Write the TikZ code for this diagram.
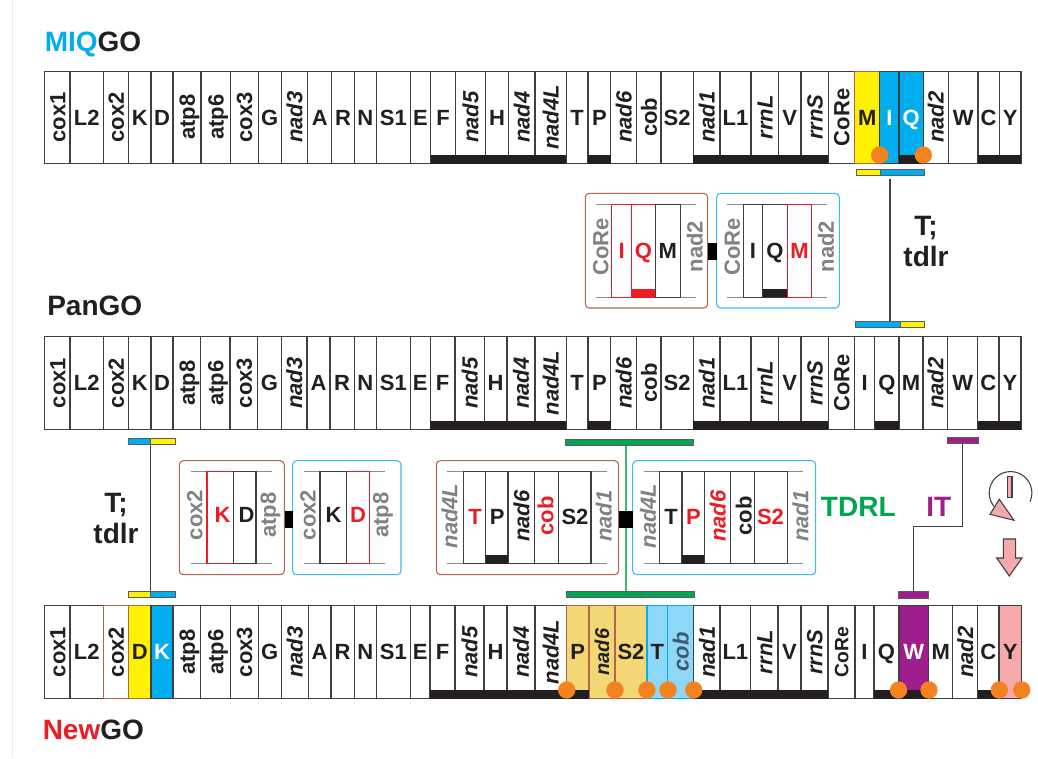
\documentclass[tikz,border=0pt]{standalone}
\usepackage{fontspec}
\setmainfont{Liberation Sans}
\definecolor{ink}{HTML}{231F20}
\definecolor{edge}{HTML}{3F3F41}
\definecolor{cyanx}{HTML}{00AEEF}
\definecolor{yel}{HTML}{FFF200}
\definecolor{redx}{HTML}{ED1C24}
\definecolor{grayt}{HTML}{808285}
\definecolor{rail}{HTML}{8A8C8E}
\definecolor{brownb}{HTML}{B0654F}
\definecolor{blueb}{HTML}{3DBBEC}
\definecolor{sand}{HTML}{F2D774}
\definecolor{sky}{HTML}{8DD8F8}
\definecolor{purp}{HTML}{9E1F8C}
\definecolor{pinkx}{HTML}{F5A9AB}
\definecolor{greenx}{HTML}{00A651}
\definecolor{greenl}{HTML}{3CB878}
\definecolor{dotc}{HTML}{F58220}
\definecolor{cobt}{HTML}{3D5A6C}
\tikzset{
  lab/.style={inner sep=0pt,text=ink,font=\bfseries\fontsize{16.5}{18}\selectfont,text height=11.9pt,text depth=0pt},
  gt/.style={lab},
  gw/.style={lab,text=white},
  gp/.style={lab,rotate=90,font=\bfseries\itshape\fontsize{16.5}{18}\selectfont},
  gs/.style={lab,rotate=90,text height=10.8pt,font=\bfseries\itshape\fontsize{15}{18}\selectfont},
  gq/.style={lab,rotate=90,text=cobt,font=\bfseries\itshape\fontsize{16.5}{18}\selectfont},
  gr/.style={lab,rotate=90},
  gu/.style={lab,rotate=90,text height=10.4pt,font=\bfseries\fontsize{14.5}{18}\selectfont},
  cwht/.style={draw=edge,line width=1.05pt,fill=white},
  cyel/.style={draw=brownb,line width=1.05pt,fill=yel},
  cbrn/.style={draw=brownb,line width=1.05pt,fill=white},
  ccya/.style={draw=edge,line width=1.05pt,fill=cyanx},
  csan/.style={draw=brownb,line width=1.05pt,fill=sand},
  csky/.style={draw=cyanx,line width=1.05pt,fill=sky},
  cpur/.style={draw=edge,line width=1.05pt,fill=purp},
  cpnk/.style={draw=edge,line width=1.05pt,fill=pinkx},
  band/.style={fill=ink},
  barst/.style={draw=edge!85,line width=.6pt},
  conn/.style={draw=edge,line width=1pt},
  redbox/.style={draw=brownb,line width=.8pt,rounded corners=3pt,fill=white},
  blubox/.style={draw=blueb,line width=.8pt,rounded corners=3pt,fill=white},
  railst/.style={draw=rail,line width=.9pt},
  gbk/.style={draw=edge,line width=1.15pt},
  grd/.style={draw=redx,line width=1.15pt},
  ttl/.style={inner sep=0pt,anchor=base west,font=\bfseries\fontsize{21}{24}\selectfont,text=ink},
  big/.style={inner sep=0pt,align=center,font=\bfseries\fontsize{21}{23.8}\selectfont,text=ink},
  btxt/.style={lab},
  brot/.style={lab,rotate=90},
  brit/.style={lab,rotate=90,font=\bfseries\itshape\fontsize{16.5}{18}\selectfont},
  icon/.style={draw=edge,line width=.8pt,fill=pinkx},
}
\newcommand{\generow}[4]{%
  \foreach \lab/\xb/\kd/\cs [remember=\xb as \xa (initially 44.7)] in {#4}{%
    \path[\cs] (\xa,#2) rectangle (\xb,#3);
    \node[\kd] (#1-\lab) at ({(\xa+\xb)/2},{(#2+#3)/2}) {\lab};
  }}
\newcommand{\barseg}[6]{\path[barst,fill=#6] (#2,#4) rectangle (#3,#5); \coordinate (#1) at ({(#2+#3)/2},{(#4+#5)/2});}
\begin{document}
\begin{tikzpicture}[x=0.75pt,y=-0.75pt]
\useasboundingbox (0,0) rectangle (1038,758);
\fill[white] (0,0) rectangle (1038,758);
\draw[black!7,line width=.6pt] (12.7,0) -- (12.7,758);

% titles
\node[ttl] (t1) at (44.5,51) {\textcolor{cyanx}{MIQ}GO};
\node[ttl] (t2) at (47,315) {PanGO};
\node[ttl] (t3) at (42.5,739) {\textcolor{redx}{New}GO};

% row 1
\generow{a}{71.3}{163.3}{cox1/70/gr/cwht,L2/103.3/gt/cwht,cox2/128.7/gr/cwht,K/151/gt/cwht,D/173/gt/cwht,atp8/201/gr/cwht,atp6/230.3/gr/cwht,cox3/258.3/gr/cwht,G/281.3/gt/cwht,nad3/307.7/gp/cwht,A/331.7/gt/cwht,R/354.3/gt/cwht,N/376.3/gt/cwht,S1/410.3/gt/cwht,E/430.7/gt/cwht,F/455.3/gt/cwht,nad5/485.7/gp/cwht,H/508.3/gt/cwht,nad4/535/gp/cwht,nad4L/566.3/gp/cwht,T/588/gt/cwht,P/610.7/gt/cwht,nad6/636.7/gp/cwht,cob/661/gr/cwht,S2/693.3/gt/cwht,nad1/720/gp/cwht,L1/751/gt/cwht,rrnL/778.3/gp/cwht,V/801/gt/cwht,rrnS/828.3/gp/cwht,CoRe/854.7/gr/cwht,M/879.7/gt/cyel,I/899/gw/ccya,Q/923.3/gw/ccya,nad2/948.3/gp/cwht,W/978/gt/cwht,C/999.3/gt/cwht,Y/1021/gt/cwht}
\foreach \p/\q in {430.7/566.3,588/610.7,693.3/828.3,899/923.3,978/1021}
  \fill[band] (\p,155) rectangle (\q,163.8);
\foreach \cx in {879.7,923.3} \fill[dotc] (\cx,155) circle[radius=6.5pt];

% row 2
\generow{b}{336.7}{429.3}{cox1/70/gr/cwht,L2/103.3/gt/cwht,cox2/128.7/gr/cwht,K/151/gt/cwht,D/173/gt/cwht,atp8/200.7/gr/cwht,atp6/230/gr/cwht,cox3/257.7/gr/cwht,G/281.3/gt/cwht,nad3/307/gp/cwht,A/330/gt/cwht,R/354.3/gt/cwht,N/376.3/gt/cwht,S1/410.3/gt/cwht,E/430.3/gt/cwht,F/455/gt/cwht,nad5/484.3/gp/cwht,H/507/gt/cwht,nad4/535/gp/cwht,nad4L/566.3/gp/cwht,T/588/gt/cwht,P/610.7/gt/cwht,nad6/636.7/gp/cwht,cob/661/gr/cwht,S2/693.3/gt/cwht,nad1/720/gp/cwht,L1/751/gt/cwht,rrnL/778.3/gp/cwht,V/801/gt/cwht,rrnS/828.3/gp/cwht,CoRe/854.7/gr/cwht,I/874.7/gt/cwht,Q/899/gt/cwht,M/923/gt/cwht,nad2/947.7/gp/cwht,W/977.7/gt/cwht,C/999/gt/cwht,Y/1021/gt/cwht}
\foreach \p/\q in {430.3/566.3,588/610.7,693.3/828.3,874.7/899,977.7/1021}
  \fill[band] (\p,421) rectangle (\q,429.8);

% row 3
\generow{c}{605.7}{698.3}{cox1/70/gr/cwht,L2/103.3/gt/cwht,cox2/128.7/gr/cbrn,D/151/gt/cyel,K/173/gw/ccya,atp8/200.7/gr/cwht,atp6/230.3/gr/cwht,cox3/258.3/gr/cwht,G/281.3/gt/cwht,nad3/308.3/gp/cwht,A/331/gt/cwht,R/354.3/gt/cwht,N/376.3/gt/cwht,S1/410.3/gt/cwht,E/430/gt/cwht,F/455/gt/cwht,nad5/484/gp/cwht,H/507/gt/cwht,nad4/535/gp/cwht,nad4L/566.3/gp/cwht,P/589/gt/csan,nad6/615/gs/csan,S2/647/gt/csan,T/667.7/gt/csky,cob/693.7/gq/csky,nad1/720/gp/cwht,L1/750.7/gt/cwht,rrnL/778/gp/cwht,V/801/gt/cwht,rrnS/828/gp/cwht,CoRe/855/gu/cwht,I/874/gt/cwht,Q/899/gt/cwht,W/928.7/gw/cpur,M/952.7/gt/cwht,nad2/977.7/gp/cwht,C/999/gt/cwht,Y/1021.3/gt/cpnk}
\foreach \p/\q in {430/589,693.7/828,874/899,977.7/999}
  \fill[band] (\p,690) rectangle (\q,698.8);
\fill[band] (899,690) rectangle (928.7,698.8);
\foreach \cx in {566.7,615,647,668,693.7,898.5,929,999.3,1021.7} \fill[dotc] (\cx,690) circle[radius=6.5pt];

% MIQ connector
\barseg{miqa}{856}{880.7}{169.3}{175.7}{yel}
\barseg{miqb}{880.7}{924}{169.3}{175.7}{cyanx}
\barseg{miqc}{855.7}{900}{321.3}{327.7}{cyanx}
\barseg{miqd}{900}{924.3}{321.3}{327.7}{yel}
\coordinate (miqs) at (890,178.5);
\coordinate (miqe) at (890,321.3);
\draw[conn] (miqs) -- (miqe);
\node[big] (txa) at (926,241.5) {T;\\tdlr};

% KD connector
\barseg{kda}{128}{150.7}{438.7}{444.7}{cyanx}
\barseg{kdb}{150.7}{175}{438.7}{444.7}{yel}
\barseg{kdc}{128}{150.7}{591.3}{597.3}{yel}
\barseg{kdd}{150.7}{175}{591.3}{597.3}{cyanx}
\coordinate (kds) at (150.7,444.7);
\coordinate (kde) at (150.7,591.3);
\draw[conn] (kds) -- (kde);
\node[big] (txb) at (116,518.5) {T;\\tdlr};

% TDRL connector
\coordinate (tds) at (626,445);
\coordinate (tde) at (626,591);
\draw[draw=greenl,line width=1pt] (tds) -- (tde);
\barseg{tda}{565.7}{693.7}{439}{445.3}{greenx}
\barseg{tdb}{566.7}{694.3}{591}{597}{greenx}
\node[ttl,text=greenx] (txc) at (820.7,516.7) {TDRL};

% IT connector
\barseg{ita}{947.7}{978}{437}{443.3}{purp}
\barseg{itb}{898.3}{928.7}{591.7}{598}{purp}
\coordinate (its) at (962.7,443.3);
\coordinate (itm) at (913.7,526.3);
\coordinate (ite) at (913.7,591.7);
\draw[conn] (its) |- (itm) -- (ite);
\node[ttl,text=purp] (txd) at (926,516.7) {IT};

% MIQ boxes
\path[redbox] (585.3,193.3) rectangle (707.7,308);
\path[blubox] (716.7,193.3) rectangle (839.3,308);
\fill[black] (707.7,242.7) rectangle (716.7,260);
\foreach \p/\q in {596/696,727.3/827.3}{
  \draw[railst] (\p,204.7) -- (\q,204.7);
  \draw[railst] (\p,297.3) -- (\q,297.3);
}
\draw[grd] (611.7,204.7) rectangle (631.7,297.3);
\draw[grd] (631.7,204.7) rectangle (655.3,297.3);
\fill[redx] (631.7,289) rectangle (655.3,297.3);
\draw[gbk] (655.3,204.7) rectangle (680.3,297.3);
\draw[gbk] (743.3,204.7) rectangle (762.7,297.3);
\draw[gbk] (762.7,204.7) rectangle (787.3,297.3);
\fill[ink] (762.7,289) rectangle (787.3,297.3);
\draw[grd] (787.3,204.7) rectangle (811.7,297.3);
\node[brot,text=grayt] (ma) at (600.4,246.7) {CoRe};
\node[btxt,text=redx] (mb) at (621.7,250.5) {I};
\node[btxt,text=redx] (mc) at (643.5,250.5) {Q};
\node[btxt] (md) at (667.8,250.5) {M};
\node[brot,text=grayt] (me) at (694.8,246.7) {nad2};
\node[brot,text=grayt] (mf) at (732,246.7) {CoRe};
\node[btxt] (mg) at (753,250.5) {I};
\node[btxt] (mh) at (775,250.5) {Q};
\node[btxt,text=redx] (mi) at (799.5,250.5) {M};
\node[brot,text=grayt] (mj) at (826,246.7) {nad2};

% KD boxes
\path[redbox] (179.3,460.7) rectangle (284.3,574.7);
\path[blubox] (292.7,460.7) rectangle (401,574.7);
\fill[black] (284.5,511) rectangle (292.7,527.7);
\foreach \p/\q in {191/272,304/385}{
  \draw[railst] (\p,471.7) -- (\q,471.7);
  \draw[railst] (\p,563.7) -- (\q,563.7);
}
\draw[grd] (207,471.7) rectangle (233.3,563.7);
\draw[gbk] (233.3,471.7) rectangle (256,563.7);
\draw[grd] (346.7,471.7) rectangle (369.3,563.7);
\draw[gbk] (320,471.7) rectangle (346.7,563.7);
\node[brot,text=grayt] (ka) at (194.5,515) {cox2};
\node[btxt,text=redx] (kb) at (222.5,515) {K};
\node[btxt] (kc) at (246.5,515) {D};
\node[brot,text=grayt] (kd) at (268,515) {atp8};
\node[brot,text=grayt] (ke) at (307.8,515) {cox2};
\node[btxt] (kf) at (333.5,515) {K};
\node[btxt,text=redx] (kg) at (358,515) {D};
\node[brot,text=grayt] (kh) at (380.4,515) {atp8};

% TDRL boxes
\path[redbox] (436.3,460.7) rectangle (618.7,574.7);
\path[blubox] (632.7,460.7) rectangle (815.7,574.7);
\fill[black] (618.7,511) rectangle (632.7,527.7);
\foreach \p/\q in {447.3/606.7,644/802.7}{
  \draw[railst] (\p,471.7) -- (\q,471.7);
  \draw[railst] (\p,563.7) -- (\q,563.7);
}
\foreach \p/\q in {463.3/485.7,485.7/508,508/534.3,534.3/558.7,558.7/591,659.7/682,682/704.3,704.3/730.3,730.3/754.7,754.7/787.3}
  \draw[gbk] (\p,471.7) rectangle (\q,563.7);
\fill[ink] (485.7,555) rectangle (508,563.7);
\fill[ink] (682,555) rectangle (704.3,563.7);
\node[brit,text=grayt] (da) at (449.4,516) {nad4L};
\node[btxt,text=redx] (db) at (475,517) {T};
\node[btxt] (dc) at (497.3,517) {P};
\node[brit] (dd) at (521.4,516) {nad6};
\node[brot,text=redx] (de) at (545.4,516) {cob};
\node[btxt] (df) at (575,517) {S2};
\node[brit,text=grayt] (dg) at (603.8,516) {nad1};
\node[brit,text=grayt] (dh) at (648,516) {nad4L};
\node[btxt] (di) at (671,517) {T};
\node[btxt,text=redx] (dj) at (693.5,517) {P};
\node[brit,text=redx] (dk) at (717.8,516) {nad6};
\node[brot] (dl) at (743.8,516) {cob};
\node[btxt,text=redx] (dm) at (770.5,517) {S2};
\node[brit,text=grayt] (dn) at (800.4,516) {nad1};

% icons
\draw[draw=edge,line width=.8pt] (1030,501.7) arc[start angle=-24.4,end angle=221,radius=16pt];
\path[icon] (1007.7,476.7) rectangle (1012,497.3);
\path[icon] (999.3,499.3) -- (990,514.3) -- (1014,520.3) -- cycle;
\path[icon] (1003.3,539) -- (1015.7,539) -- (1015.7,558) -- (1022,558) -- (1009.3,576) -- (996.7,558) -- (1003.3,558) -- cycle;
\end{tikzpicture}
\end{document}
